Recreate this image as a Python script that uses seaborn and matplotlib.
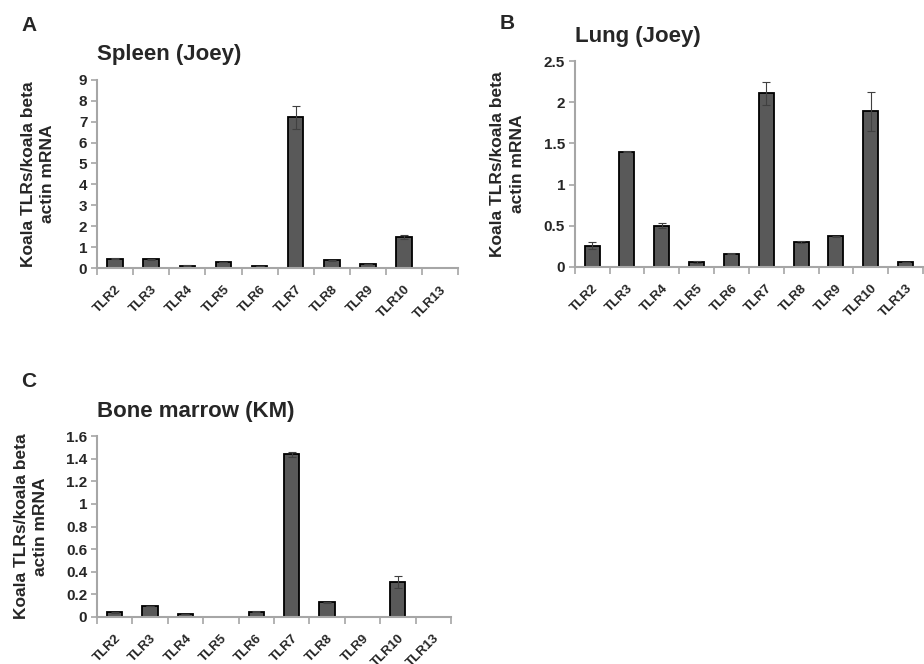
import numpy as np
import pandas as pd
import seaborn as sns
import matplotlib.pyplot as plt
from matplotlib.ticker import FuncFormatter, FixedLocator

tlrs = ["TLR2", "TLR3", "TLR4", "TLR5", "TLR6", "TLR7", "TLR8", "TLR9", "TLR10", "TLR13"]

spleen = [0.45, 0.42, 0.13, 0.30, 0.10, 7.20, 0.38, 0.20, 1.48, 0.0]
spleen_err = [0.02, 0.04, 0.01, 0.02, 0.01, 0.55, 0.02, 0.01, 0.10, 0.0]

lung = [0.26, 1.40, 0.50, 0.06, 0.16, 2.11, 0.30, 0.37, 1.89, 0.06]
lung_err = [0.04, 0.01, 0.03, 0.01, 0.005, 0.14, 0.015, 0.005, 0.24, 0.005]

marrow = [0.04, 0.095, 0.025, 0.0, 0.045, 1.44, 0.13, 0.0, 0.31, 0.0]
marrow_err = [0.003, 0.003, 0.002, 0.0, 0.003, 0.02, 0.003, 0.0, 0.05, 0.0]

sns.set_style("white")
plt.rcParams["font.family"] = ["Liberation Sans", "DejaVu Sans"]
plt.rcParams["font.weight"] = "bold"

fig = plt.figure(figsize=(9.24, 6.64), dpi=100)

# letter, title, values, errors, axes rect, ymax, step, letter pos, ylabel x
panels = [
    ("A", "Spleen (Joey)", spleen, spleen_err, [0.105, 0.596, 0.391, 0.284], 9, 1,
     (0.023, 0.962), -0.116),
    ("B", "Lung (Joey)", lung, lung_err, [0.622, 0.598, 0.377, 0.310], 2.5, 0.5,
     (0.541, 0.965), -0.144),
    ("C", "Bone marrow (KM)", marrow, marrow_err, [0.105, 0.071, 0.383, 0.272], 1.6, 0.2,
     (0.023, 0.425), -0.138),
]

spine_col = "#a6a6a6"

for letter, title, vals, errs, rect, ymax, step, lpos, ylx in panels:
    ax = fig.add_axes(rect)
    df = pd.DataFrame({"tlr": tlrs, "value": vals})
    sns.barplot(data=df, x="tlr", y="value", color="#595959", saturation=1,
                width=0.43, edgecolor="black", linewidth=1.3, errorbar=None, ax=ax)
    for p, v in zip(ax.patches, vals):
        if v == 0:
            p.set_visible(False)
    x = np.arange(len(tlrs))
    e = np.array(errs)
    mask = e > 0
    ax.errorbar(x[mask], np.array(vals)[mask], yerr=e[mask], fmt="none",
                ecolor="#404040", elinewidth=0.8, capsize=3, capthick=0.8)
    ax.set_xlim(-0.5, len(tlrs) - 0.5)
    ax.set_ylim(0, ymax)
    ax.set_yticks(np.arange(0, ymax + step / 2, step))
    ax.yaxis.set_major_formatter(FuncFormatter(lambda v, _: f"{v:g}"))
    ax.tick_params(axis="y", left=True, length=4, width=1.2, color=spine_col,
                   labelsize=11, pad=3)
    ax.xaxis.set_minor_locator(FixedLocator(np.arange(-0.5, len(tlrs), 1.0)))
    ax.tick_params(axis="x", which="major", length=0, labelsize=9.5, pad=11)
    ax.tick_params(axis="x", which="minor", bottom=True, length=5, width=1.2,
                   color=spine_col)
    for lab in ax.get_xticklabels():
        lab.set_rotation(45)
        lab.set_ha("right")
        lab.set_rotation_mode("anchor")
        lab.set_fontweight("bold")
    for lab in ax.get_yticklabels():
        lab.set_fontweight("bold")
    for s in ["top", "right"]:
        ax.spines[s].set_visible(False)
    for s in ["left", "bottom"]:
        ax.spines[s].set_color(spine_col)
        ax.spines[s].set_linewidth(1.5)
    ax.set_xlabel("")
    ax.set_ylabel("Koala TLRs/koala beta\nactin mRNA", fontsize=12.5,
                  fontweight="bold", linespacing=1.35)
    ax.yaxis.set_label_coords(ylx, 0.5)
    ax.set_title(title, fontsize=16, fontweight="bold", loc="left", pad=14)
    fig.text(lpos[0], lpos[1], letter, fontsize=15, fontweight="bold",
             ha="left", va="center")

fig.savefig("out.png", dpi=100)
